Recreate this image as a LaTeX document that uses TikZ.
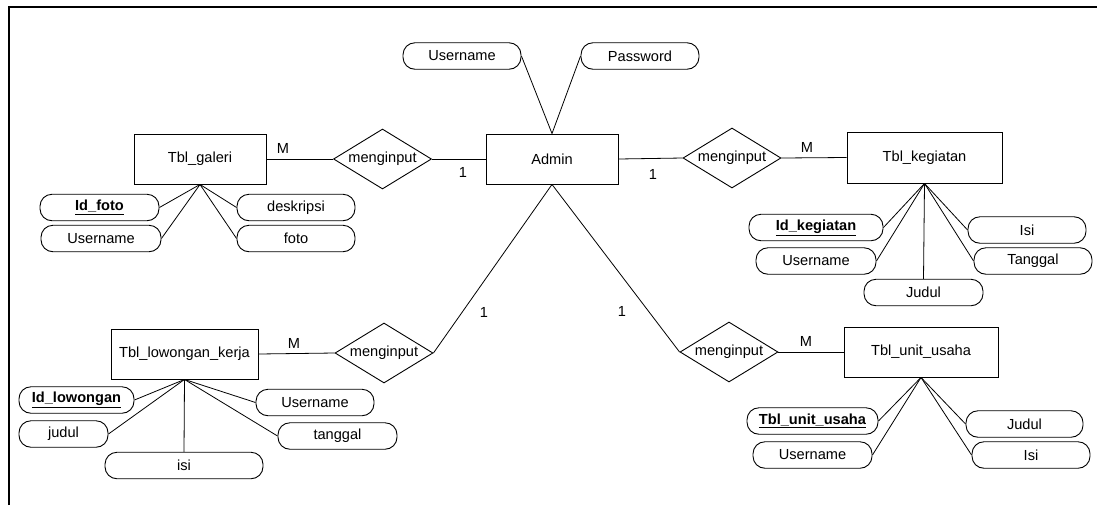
\documentclass[tikz,border=0pt]{standalone}
\usepackage{fontspec}
\setmainfont{Liberation Sans}
\usetikzlibrary{shapes.geometric}
\newcommand\erfont{\fontsize{14.6}{17}\selectfont}
\begin{document}
\begin{tikzpicture}[x=1pt,y=-1pt,
  ent/.style={draw, line width=0.9pt, minimum height=50pt, inner sep=0pt, font=\erfont},
  attr/.style={draw, line width=0.9pt, rounded corners=12pt, minimum height=26.5pt, inner sep=0pt, font=\erfont},
  rel/.style={draw, diamond, line width=0.9pt, minimum width=98pt, minimum height=60pt, inner sep=0pt, font=\erfont},
  lbl/.style={font=\erfont, inner sep=0pt},
  conn/.style={line width=0.8pt}]
\useasboundingbox (0,0) rectangle (1097,507);
% frame
\draw[line width=2pt] (8.5,505) -- (8.5,6.5) -- (1097,6.5);

% entities
\node[ent, minimum width=132pt] (galeri) at (200,159) {Tbl\_galeri};
\node[ent, minimum width=132pt] (admin) at (552,159) {Admin};
\node[ent, minimum width=155pt, minimum height=51pt] (kegiatan) at (924.5,157.5) {Tbl\_kegiatan};
\node[ent, minimum width=147pt] (lowongan) at (184.5,354) {Tbl\_lowongan\_kerja};
\node[ent, minimum width=154pt] (unit) at (921,352) {Tbl\_unit\_usaha};

% relationships
\node[rel] (r1) at (382.5,159) {\makebox[0pt]{menginput}};
\node[rel] (r2) at (732,158) {\makebox[0pt]{menginput}};
\node[rel] (r3) at (384,353) {\makebox[0pt]{menginput}};
\node[rel] (r4) at (729,352) {\makebox[0pt]{menginput}};

% attributes admin
\node[attr, minimum width=118pt] (au) at (462,56) {Username};
\node[attr, minimum width=118pt] (ap) at (640,56) {Password};

% attributes galeri
\node[attr, minimum width=119pt] (g1) at (99.5,207.5) {\underline{\textbf{Id\_foto}}};
\node[attr, minimum width=120pt] (g2) at (101,238.5) {Username};
\node[attr, minimum width=118pt] (g3) at (296,207.5) {deskripsi};
\node[attr, minimum width=118pt] (g4) at (296,238.5) {foto};

% attributes kegiatan
\node[attr, minimum width=134pt] (k1) at (816,227.5) {\underline{\textbf{Id\_kegiatan}}};
\node[attr, minimum width=120pt] (k2) at (816,261) {Username};
\node[attr, minimum width=119pt] (k3) at (923.5,292.5) {Judul};
\node[attr, minimum width=118pt] (k4) at (1027,230) {Isi};
\node[attr, minimum width=118pt] (k5) at (1033,261) {Tanggal};

% attributes lowongan
\node[attr, minimum width=115pt] (l1) at (76.5,400) {\underline{\textbf{Id\_lowongan}}};
\node[attr, minimum width=89pt] (l2) at (63.5,434) {judul};
\node[attr, minimum width=158pt] (l3) at (184,465.5) {isi};
\node[attr, minimum width=118pt] (l4) at (315,402.5) {Username};
\node[attr, minimum width=119pt] (l5) at (337.5,436) {tanggal};

% attributes unit usaha
\node[attr, minimum width=131pt] (n1) at (812.5,421) {\underline{\textbf{Tbl\_unit\_usaha}}};
\node[attr, minimum width=119pt] (n2) at (812.5,455) {Username};
\node[attr, minimum width=117pt] (n3) at (1024.5,424) {Judul};
\node[attr, minimum width=118pt] (n4) at (1031,455) {Isi};

% relationship connectors
\draw[conn] (galeri.east) -- (r1.west);
\draw[conn] (r1.east) -- (admin.west);
\draw[conn] (admin.east) -- (r2.west);
\draw[conn] (r2.east) -- (kegiatan.west);
\draw[conn] (admin.south) -- (r3.east);
\draw[conn] (admin.south) -- (r4.west);
\draw[conn] (r3.west) -- (lowongan.east);
\draw[conn] (r4.east) -- (unit.west);

% attribute connectors
\draw[conn] (au.east) -- (admin.north);
\draw[conn] (ap.west) -- (admin.north);
\foreach \a in {g1,g2} \draw[conn] (\a.east) -- (galeri.south);
\foreach \a in {g3,g4} \draw[conn] (\a.west) -- (galeri.south);
\foreach \a in {k1,k2} \draw[conn] (\a.east) -- (kegiatan.south);
\draw[conn] (k3.north) -- (kegiatan.south);
\foreach \a in {k4,k5} \draw[conn] (\a.west) -- (kegiatan.south);
\foreach \a in {l1,l2} \draw[conn] (\a.east) -- (lowongan.south);
\draw[conn] (l3.north) -- (lowongan.south);
\foreach \a in {l4,l5} \draw[conn] (\a.west) -- (lowongan.south);
\foreach \a in {n1,n2} \draw[conn] (\a.east) -- (unit.south);
\foreach \a in {n3,n4} \draw[conn] (\a.west) -- (unit.south);

% cardinality labels
\node[lbl] (c1) at (283,148) {M};
\node[lbl] (c2) at (463,172) {1};
\node[lbl] (c3) at (653,174) {1};
\node[lbl] (c4) at (807,147) {M};
\node[lbl] (c5) at (484,312) {1};
\node[lbl] (c6) at (622,311) {1};
\node[lbl] (c7) at (294,343) {M};
\node[lbl] (c8) at (806,341) {M};
\end{tikzpicture}
\end{document}
